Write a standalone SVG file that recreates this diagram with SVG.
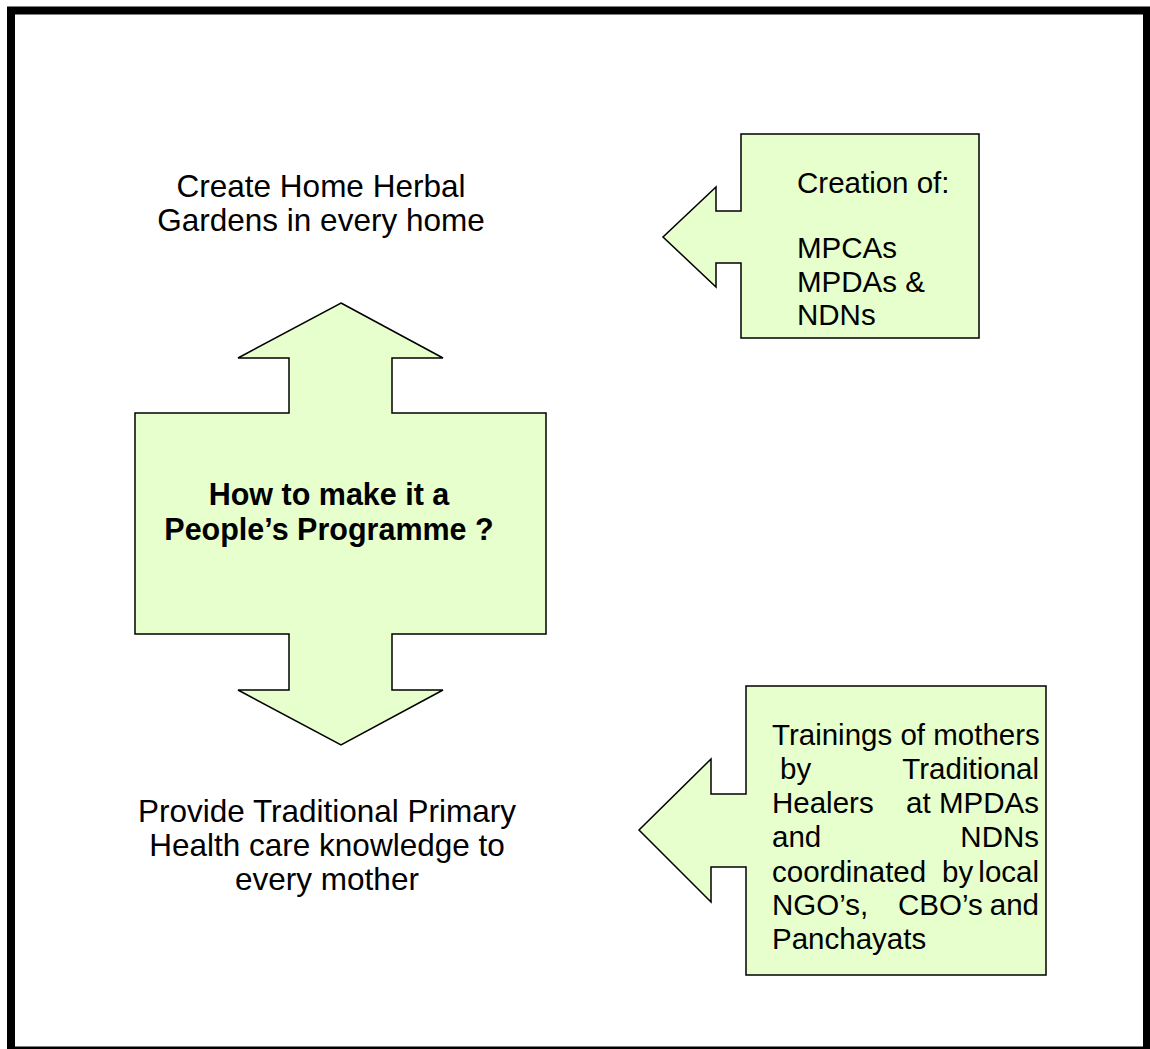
<svg xmlns="http://www.w3.org/2000/svg" width="1150" height="1049" viewBox="0 0 1150 1049">
<style>
.shape{fill:#E6FFCC;stroke:#000;stroke-width:1.5;stroke-linejoin:miter}
.t{font-family:"Liberation Sans",Arial,sans-serif;font-size:31.5px;fill:#000}
.c{font-family:"Liberation Sans",Arial,sans-serif;font-size:29.5px;fill:#000}
.b{font-family:"Liberation Sans",Arial,sans-serif;font-size:30.5px;font-weight:bold;fill:#000}
</style>
<rect x="0" y="0" width="1150" height="1049" fill="#fff"/>
<rect id="frame" x="11" y="10.5" width="1136" height="1040" fill="none" stroke="#000" stroke-width="8"/>
<g id="top-left-text">
<text class="t" x="321" y="197" text-anchor="middle">Create Home Herbal</text>
<text class="t" x="321" y="231" text-anchor="middle">Gardens in every home</text>
</g>
<g id="bottom-left-text">
<text class="t" x="327" y="822" text-anchor="middle">Provide Traditional Primary</text>
<text class="t" x="327" y="856" text-anchor="middle">Health care knowledge to</text>
<text class="t" x="327" y="890" text-anchor="middle">every mother</text>
</g>
<g id="center-node">
<polygon class="shape" points="341,303 443,358 392,358 392,413 546,413 546,634 392,634 392,690 443,690 341,745 238,690 289,690 289,634 135,634 135,413 289,413 289,358 238,358"/>
<text class="b" x="329" y="505" text-anchor="middle">How to make it a</text>
<text class="b" x="329" y="540" text-anchor="middle">People’s Programme ?</text>
</g>
<g id="creation-node">
<polygon class="shape" points="741,134 979,134 979,338 741,338 741,263 716,263 716,287 663,237 716,187 716,211 741,211"/>
<text class="c" x="797" y="193">Creation of:</text>
<text class="c" x="797" y="258">MPCAs</text>
<text class="c" x="797" y="292">MPDAs &amp;</text>
<text class="c" x="797" y="325">NDNs</text>
</g>
<g id="training-node">
<polygon class="shape" points="746,686 1046,686 1046,975 746,975 746,867 711,867 711,902 639,830 711,759 711,794 746,794"/>
<text class="c" x="772" y="745">Trainings of mothers</text>
<text class="c" x="780" y="779">by</text>
<text class="c" x="1039" y="779" text-anchor="end">Traditional</text>
<text class="c" x="772" y="813">Healers</text>
<text class="c" x="906" y="813">at</text>
<text class="c" x="1039" y="813" text-anchor="end">MPDAs</text>
<text class="c" x="772" y="847">and</text>
<text class="c" x="1039" y="847" text-anchor="end">NDNs</text>
<text class="c" x="772" y="882">coordinated</text>
<text class="c" x="942" y="882">by</text>
<text class="c" x="1039" y="882" text-anchor="end">local</text>
<text class="c" x="772" y="915">NGO’s,</text>
<text class="c" x="898" y="915">CBO’s</text>
<text class="c" x="1039" y="915" text-anchor="end">and</text>
<text class="c" x="772" y="949">Panchayats</text>
</g>
<g id="connectors"></g>
</svg>
